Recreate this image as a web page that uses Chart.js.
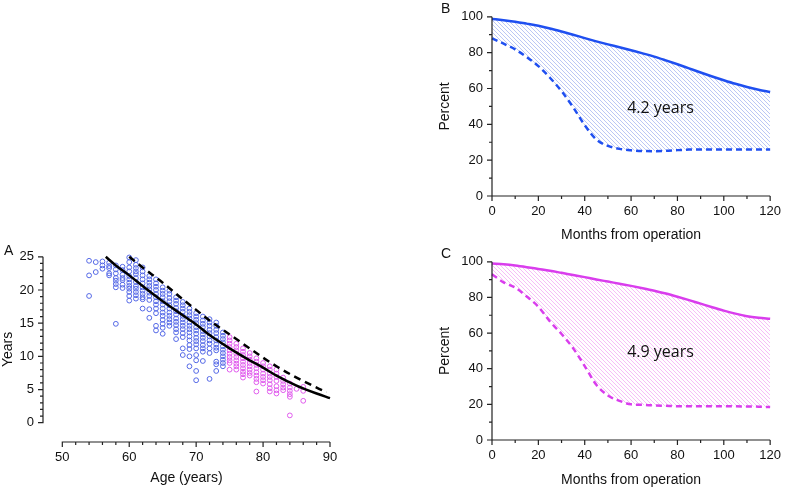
<!DOCTYPE html>
<html lang="en">
<head>
<meta charset="UTF-8">
<title>Years and survival panels</title>
<script src="https://cdn.jsdelivr.net/npm/chart.js"></script>
<style>
    body { margin: 0; background: #fff; }
    .wrap { position: relative; width: 789px; height: 489px; overflow: hidden; }
    canvas { position: absolute; }
    #chartA { left: 0; top: 240px; }
    #chartB { left: 420px; top: 0; }
    #chartC { left: 420px; top: 245px; }
</style>
</head>
<body>
<div class="wrap">
    <canvas id="chartA" width="400" height="249"></canvas>
    <canvas id="chartB" width="369" height="245"></canvas>
    <canvas id="chartC" width="369" height="244"></canvas>
</div>
<script>
// Panel A: observed years by age at operation (one column per age)
const scatterAges = [54, 55, 56, 57, 58, 59, 60, 61, 62, 63, 64, 65, 66, 67, 68, 69, 70,
                     71, 72, 73, 74, 75, 76, 77, 78, 79, 80, 81, 82, 83, 84, 85, 86];
const scatterYears = [
    [24.4, 22.2, 19.1],
    [24.2, 22.7],
    [24.3, 23.7, 23.2],
    [24.1, 23.6, 23.3, 22.5, 22.2],
    [23.7, 23.1, 22.5, 21.8, 21.4, 20.9, 20.4, 14.9],
    [23.5, 23.0, 22.3, 21.8, 21.5, 20.8, 20.3],
    [24.9, 24.2, 23.4, 22.8, 22.1, 21.6, 21.1, 20.6, 20.2, 19.7, 19.1, 18.4],
    [24.5, 23.8, 23.3, 22.8, 22.4, 21.8, 21.2, 20.6, 20.2, 19.7, 19.2, 18.7],
    [23.4, 22.8, 22.2, 21.6, 21.0, 20.4, 19.9, 19.4, 18.9, 18.6, 17.2],
    [22.1, 21.6, 21.1, 20.6, 20.1, 19.6, 19.1, 18.5, 17.1, 15.8],
    [21.6, 21.0, 20.5, 20.0, 19.4, 18.9, 18.3, 17.8, 17.2, 16.5, 14.6, 13.9],
    [20.4, 19.9, 19.4, 18.9, 18.3, 17.8, 17.2, 16.6, 16.1, 15.5, 14.9, 14.3, 13.4],
    [19.9, 19.4, 18.8, 18.3, 17.7, 17.2, 16.6, 16.1, 15.6, 15.1, 14.6],
    [18.9, 18.4, 17.9, 17.3, 16.8, 16.3, 15.7, 15.2, 14.7, 14.1, 13.6, 12.6],
    [18.2, 17.7, 17.2, 16.7, 16.1, 15.6, 15.1, 14.6, 14.1, 13.5, 12.9, 11.2, 10.2],
    [17.2, 16.7, 16.2, 15.7, 15.1, 14.6, 14.1, 13.6, 13.0, 12.4, 11.7, 11.1, 10.0, 8.5],
    [16.5, 16.0, 15.5, 15.0, 14.4, 13.9, 13.4, 12.8, 12.3, 11.8, 11.2, 10.2, 9.4, 7.8, 6.4],
    [16.0, 15.4, 14.9, 14.4, 13.8, 13.3, 12.8, 12.3, 11.7, 11.2, 10.7, 9.3],
    [15.6, 15.1, 14.6, 14.0, 13.5, 13.0, 12.4, 11.9, 11.2, 10.5, 6.6],
    [15.1, 14.6, 14.0, 13.5, 12.9, 12.4, 11.8, 11.3, 10.9, 9.2, 8.8, 7.8],
    [13.6, 13.1, 12.6, 12.1, 11.5, 11.0, 10.5, 10.0, 9.5, 9.0, 8.5],
    [12.9, 12.4, 11.9, 11.4, 10.9, 10.4, 9.9, 9.4, 9.0, 8.0],
    [11.9, 11.4, 10.9, 10.4, 9.9, 9.4, 8.9, 8.5, 8.0],
    [11.2, 10.7, 10.2, 9.7, 9.2, 8.7, 8.2, 7.7, 7.3, 6.8],
    [10.5, 10.0, 9.5, 9.0, 8.5, 8.0, 7.5, 7.1],
    [9.7, 9.2, 8.7, 8.2, 7.6, 7.1, 6.6, 6.1, 4.7],
    [9.0, 8.5, 8.0, 7.4, 6.9, 6.4, 5.9],
    [8.5, 8.0, 7.4, 6.9, 6.4, 5.8, 5.2, 4.7],
    [8.0, 7.4, 6.9, 6.3, 5.5, 4.9, 4.4],
    [6.8, 6.3, 5.8, 5.3, 4.9],
    [5.9, 5.3, 4.8, 4.3, 3.9, 1.1],
    [5.1],
    [5.4, 4.8, 3.3]
];
const olderFromAge = 75;

// Panel A fitted curves
const solidAges = [56.5, 58, 60, 62, 65, 68, 70, 72, 75, 78, 80, 82, 85, 88, 90];
const solidYears = [25.0, 23.7, 22.2, 20.6, 18.3, 16.2, 14.8, 13.2, 11.2, 9.4, 8.3, 7.1, 5.6, 4.4, 3.7];
const dashedAges = [60, 62, 65, 68, 70, 72, 75, 78, 80, 82, 85, 88, 89.5];
const dashedYears = [25.0, 23.4, 21.1, 18.6, 17.0, 15.4, 13.3, 11.2, 9.8, 8.5, 6.8, 5.3, 4.6];

// Panels B and C: percent by months from operation
const months = [0, 5, 10, 15, 20, 25, 30, 35, 40, 45, 50, 55, 60,
                65, 70, 75, 80, 85, 90, 95, 100, 105, 110, 115, 120];
const bUpper = [98.8, 98.1, 97.3, 96.2, 95.0, 93.5, 91.8, 90.0, 88.1, 86.3, 84.6, 83.0, 81.3,
                79.6, 77.8, 75.7, 73.5, 71.2, 68.9, 66.7, 64.6, 62.6, 60.8, 59.3, 58.0];
const bLower = [88.0, 85.0, 81.8, 77.5, 72.5, 66.0, 58.5, 49.5, 39.5, 31.5, 28.0, 26.3, 25.5,
                25.1, 25.0, 25.2, 25.6, 25.9, 26.0, 26.0, 26.0, 26.0, 26.0, 26.0, 26.0];
const cUpper = [99.1, 98.6, 97.9, 97.0, 96.0, 95.0, 93.8, 92.6, 91.4, 90.1, 88.9, 87.7, 86.5,
                85.2, 83.8, 82.2, 80.4, 78.5, 76.5, 74.5, 72.6, 70.9, 69.5, 68.6, 68.0];
const cLower = [93.0, 88.5, 85.5, 80.5, 74.8, 66.5, 59.5, 51.5, 41.5, 31.0, 25.0, 22.0, 20.0,
                19.7, 19.4, 19.2, 19.0, 19.0, 19.0, 19.0, 19.0, 18.9, 18.8, 18.7, 18.5];
const bNote = '4.2 years';
const cNote = '4.9 years';

const BLUE = '#1f4ff0';
const MAGENTA = '#d93ded';

Chart.defaults.font.family = '"Liberation Sans", Arial, sans-serif';
Chart.defaults.color = '#111';

// 4x4 tile with one crisp diagonal stripe, repeated as the fill between the curves
function stripeTile(color) {
    const c = document.createElement('canvas');
    c.width = 4; c.height = 4;
    const g = c.getContext('2d');
    g.fillStyle = '#ffffff';
    g.fillRect(0, 0, 4, 4);
    g.fillStyle = color;
    for (let i = 0; i < 4; i++) g.fillRect(i, i, 1, 1);
    return c;
}

// axis lines, major/minor tick marks, panel letter and note text
function makeExtras(spec) {
    return {
        id: 'extras',
        afterDatasetsDraw(chart) {
            const ctx = chart.ctx;
            const xs = chart.scales.x, ys = chart.scales.y;
            const area = chart.chartArea;
            const ax = spec.x, ay = spec.y;
            ctx.save();
            ctx.strokeStyle = '#222';
            ctx.lineWidth = 1.2;
            ctx.beginPath();
            ctx.moveTo(area.left, ys.getPixelForValue(ay.from) + 0.6);
            ctx.lineTo(area.left, ys.getPixelForValue(ay.to));
            ctx.moveTo(xs.getPixelForValue(ax.from) - 0.6, area.bottom);
            ctx.lineTo(xs.getPixelForValue(ax.to), area.bottom);
            const ny = Math.round((ay.to - ay.from) / ay.minor);
            for (let i = 0; i <= ny; i++) {
                const p = ys.getPixelForValue(ay.from + i * ay.minor);
                const len = (i % ay.every === 0) ? 5 : 3;
                ctx.moveTo(area.left, p);
                ctx.lineTo(area.left - len, p);
            }
            const nx = Math.round((ax.to - ax.from) / ax.minor);
            for (let i = 0; i <= nx; i++) {
                const p = xs.getPixelForValue(ax.from + i * ax.minor);
                const len = (i % ax.every === 0) ? 5 : 3;
                ctx.moveTo(p, area.bottom);
                ctx.lineTo(p, area.bottom + len);
            }
            ctx.stroke();

            ctx.fillStyle = '#111';
            ctx.font = '14px "Liberation Sans", Arial, sans-serif';
            ctx.textBaseline = 'middle';
            ctx.textAlign = 'left';
            ctx.fillText(spec.letter, spec.letterX, spec.letterY);
            if (spec.note) {
                ctx.font = '16px "Open Sans", sans-serif';
                ctx.textAlign = 'center';
                ctx.fillText(spec.note, xs.getPixelForValue(spec.noteAt[0]), ys.getPixelForValue(spec.noteAt[1]));
            }
            ctx.restore();
        }
    };
}

function fixedTicks(values) {
    return scale => { scale.ticks = values.map(v => ({ value: v })); };
}

// ---- Panel A ----
const younger = [], older = [];
scatterAges.forEach((age, i) => {
    scatterYears[i].forEach(v => {
        (age >= olderFromAge ? older : younger).push({ x: age, y: v });
    });
});

new Chart(document.getElementById('chartA'), {
    type: 'scatter',
    data: {
        datasets: [
            {
                data: solidAges.map((a, i) => ({ x: a, y: solidYears[i] })),
                showLine: true, borderColor: '#000', borderWidth: 2.5,
                pointRadius: 0, cubicInterpolationMode: 'monotone', clip: false
            },
            {
                data: dashedAges.map((a, i) => ({ x: a, y: dashedYears[i] })),
                showLine: true, borderColor: '#000', borderWidth: 2.5, borderDash: [7, 5],
                pointRadius: 0, cubicInterpolationMode: 'monotone', clip: false
            },
            {
                data: younger, pointRadius: 2.4, borderWidth: 1,
                borderColor: '#5468e6', backgroundColor: 'rgba(0,0,0,0)', clip: false
            },
            {
                data: older, pointRadius: 2.4, borderWidth: 1,
                borderColor: '#e05ced', backgroundColor: 'rgba(0,0,0,0)', clip: false
            }
        ]
    },
    options: {
        responsive: false,
        animation: false,
        devicePixelRatio: 1,
        layout: { padding: { left: 0, right: 70, top: 10, bottom: 0 } },
        plugins: { legend: { display: false }, tooltip: { enabled: false } },
        scales: {
            x: {
                type: 'linear', min: 47.115, max: 90,
                afterBuildTicks: fixedTicks([50, 60, 70, 80, 90]),
                afterFit: s => { s.height = 47; },
                grid: { display: false, drawTicks: false }, border: { display: false },
                ticks: { padding: 8, font: { size: 13 } },
                title: { display: true, text: 'Age (years)', font: { size: 14 }, padding: { top: 0, bottom: 2.6 } }
            },
            y: {
                min: -2.907, max: 25,
                afterBuildTicks: fixedTicks([0, 5, 10, 15, 20, 25]),
                afterFit: s => { s.width = 43; },
                grid: { display: false, drawTicks: false }, border: { display: false },
                ticks: { padding: 9, font: { size: 13 } },
                title: { display: true, text: 'Years', font: { size: 14, lineHeight: 1.1 }, padding: { top: 0, bottom: 0 } }
            }
        }
    },
    plugins: [makeExtras({
        x: { from: 50, to: 90, minor: 2, every: 5 },
        y: { from: 0, to: 25, minor: 1, every: 5 },
        letter: 'A', letterX: 4, letterY: 11
    })]
});

// ---- Panels B and C ----
function survivalChart(id, upper, lower, color, stripe, letter, note, xPadBottom) {
    const tile = stripeTile(stripe);
    new Chart(document.getElementById(id), {
        type: 'line',
        data: {
            datasets: [
                {
                    data: months.map((m, i) => ({ x: m, y: upper[i] })),
                    borderColor: color, borderWidth: 2.5, pointRadius: 0,
                    cubicInterpolationMode: 'monotone',
                    fill: '+1',
                    backgroundColor: c => c.chart.ctx.createPattern(tile, 'repeat'),
                    clip: false
                },
                {
                    data: months.map((m, i) => ({ x: m, y: lower[i] })),
                    borderColor: color, borderWidth: 2.5, borderDash: [6, 4], pointRadius: 0,
                    cubicInterpolationMode: 'monotone', fill: false, clip: false
                }
            ]
        },
        options: {
            responsive: false,
            animation: false,
            devicePixelRatio: 1,
            layout: { padding: { left: 0, right: 13, top: 7, bottom: 0 } },
            plugins: {
                legend: { display: false },
                tooltip: { enabled: false },
                filler: { drawTime: 'beforeDatasetsDraw' }
            },
            scales: {
                x: {
                    type: 'linear', min: 0, max: 120,
                    afterBuildTicks: fixedTicks([0, 20, 40, 60, 80, 100, 120]),
                    afterFit: s => { s.height = 49; },
                    grid: { display: false, drawTicks: false }, border: { display: false },
                    ticks: { padding: 8, font: { size: 13 } },
                    title: { display: true, text: 'Months from operation', font: { size: 14 }, padding: { top: 0, bottom: xPadBottom } }
                },
                y: {
                    min: 0, max: 100,
                    afterBuildTicks: fixedTicks([0, 20, 40, 60, 80, 100]),
                    afterFit: s => { s.width = 72; },
                    grid: { display: false, drawTicks: false }, border: { display: false },
                    ticks: { padding: 9, font: { size: 13 } },
                    title: { display: true, text: 'Percent', font: { size: 14 }, padding: { top: 16.6, bottom: 0 } }
                }
            }
        },
        plugins: [makeExtras({
            x: { from: 0, to: 120, minor: 10, every: 2 },
            y: { from: 0, to: 100, minor: 10, every: 2 },
            letter: letter, letterX: 21, letterY: 9,
            note: note, noteAt: [72.7, 49]
        })]
    });
}

survivalChart('chartB', bUpper, bLower, BLUE, '#bcc7f4', 'B', bNote, 1.6);
survivalChart('chartC', cUpper, cLower, MAGENTA, '#f6bff6', 'C', cNote, 0.6);
</script>
</body>
</html>
